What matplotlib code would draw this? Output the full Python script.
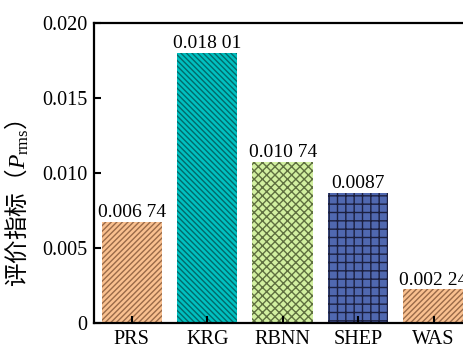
import matplotlib
matplotlib.use('Agg')
import matplotlib.pyplot as plt
from matplotlib.ticker import FuncFormatter

plt.rcParams['font.family'] = ['Liberation Serif', 'Noto Sans CJK SC']
plt.rcParams['mathtext.fontset'] = 'custom'
plt.rcParams['mathtext.rm'] = 'Liberation Serif'
plt.rcParams['mathtext.it'] = 'Liberation Serif:italic'
plt.rcParams['hatch.linewidth'] = 1.0

# surrogate model comparison
methods = ['PRS', 'KRG', 'RBNN', 'SHEP', 'WAS']
p_rms = [0.00674, 0.01801, 0.01074, 0.0087, 0.00224]

fills = ['#f9c08f', '#00c0c0', '#d2f0a0', '#5068b0', '#f9c08f']
hatch_colors = ['#9a6a48', '#006a6a', '#5f7040', '#1c2040', '#9a6a48']
hatches = ['//////', '\\' * 6, 'xxxx', '++', '//////']


def value_text(v):
    s = f'{v:.5f}'.rstrip('0')
    whole, dec = s.split('.')
    if len(dec) > 4:
        dec = dec[:3] + ' ' + dec[3:]
    return whole + '.' + dec


fig = plt.figure(figsize=(4.63, 3.44), dpi=100)
ax = fig.add_axes([0.203, 0.061, 0.815, 0.872])

x = range(len(methods))
for i, v in enumerate(p_rms):
    ax.bar(i, v, width=0.8, color=fills[i], edgecolor=hatch_colors[i],
           linewidth=0, hatch=hatches[i])
    ax.text(i, v + 0.00005, value_text(v), ha='center', va='bottom', fontsize=14)

ax.set_xlim(-0.5, 4.5)
ax.set_ylim(0, 0.020)
ax.set_xticks(list(x))
ax.set_xticklabels(methods)
ax.set_yticks([0, 0.005, 0.010, 0.015, 0.020])
ax.yaxis.set_major_formatter(FuncFormatter(lambda v, p: '0' if v == 0 else f'{v:.3f}'))

ax.tick_params(direction='in', length=5, width=1.5, labelsize=14.5, pad=5)
for s in ax.spines.values():
    s.set_linewidth(1.6)

# CJK text outside the math part comes from the label's own font
ax.set_ylabel('评价指标（$P_{\\rm rms}$）', fontsize=17, family='Noto Sans CJK SC')
ax.yaxis.set_label_coords(-0.168, 0.40)

fig.savefig('out.png', dpi=100)
